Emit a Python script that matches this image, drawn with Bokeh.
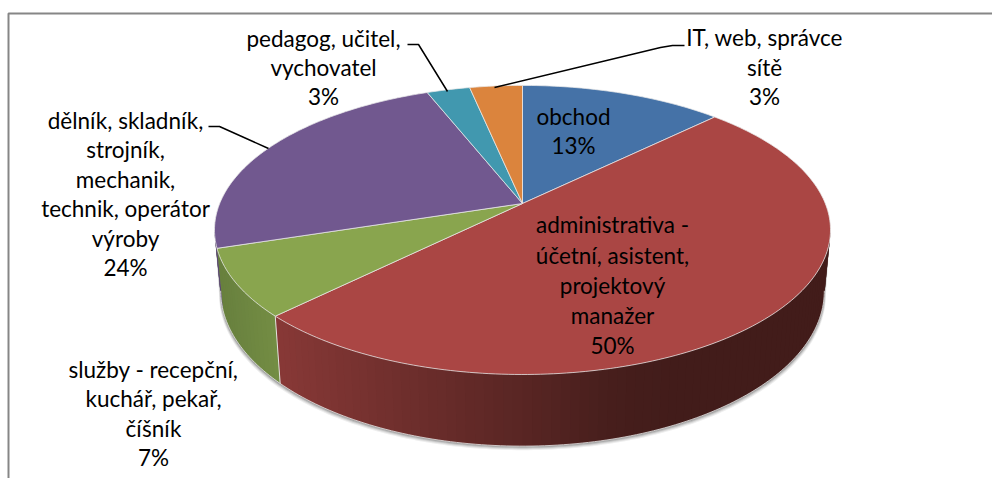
import numpy as np
from bokeh.plotting import figure
from bokeh.core.properties import value
from bokeh.embed import file_html
from bokeh.resources import INLINE

categories = ["obchod", "administrativa - účetní, asistent, projektový manažer",
              "služby - recepční, kuchář, pekař, číšník",
              "dělník, skladník, strojník, mechanik, technik, operátor výroby",
              "pedagog, učitel, vychovatel", "IT, web, správce sítě"]
drawn_share = [12.7, 49.9, 7.5, 23.9, 2.7, 3.3]
percent_labels = ["13%", "50%", "7%", "24%", "3%", "3%"]
label_lines = [["obchod"],
               ["administrativa -", "účetní, asistent,", "projektový", "manažer"],
               ["služby - recepční,", "kuchář, pekař,", "číšník"],
               ["dělník, skladník,", "strojník,", "mechanik,", "technik, operátor", "výroby"],
               ["pedagog, učitel,", "vychovatel"],
               ["IT, web, správce", "sítě"]]
top_colors = ["#4572A7", "#AA4644", "#89A54E", "#71588F", "#4198AF", "#DB843D"]

W, H = 992, 478
p = figure(width=W, height=H, x_range=(0, W), y_range=(H, 0),
           output_backend="svg", toolbar_location=None, min_border=0,
           x_axis_type="linear", y_axis_type="linear")
p.axis.visible = False
p.grid.visible = False
p.outline_line_color = None
p.background_fill_color = "white"

# chart frame
p.line([8, 8, W], [H, 13, 13], line_color="#868686", line_width=2)

# perspective disc
CX, CY, RX, RY, K = 522.0, 203.0, 302.8, 139.7, 0.183

def top_xy(deg):
    t = np.radians(deg)
    u, v = np.sin(t), np.cos(t)
    d = 1 + K * v
    return CX + RX * u / d, CY - RY * v / d

def bottom_xy(deg):
    x, y = top_xy(deg)
    return CX + 0.98 * (x - CX), 262 + 1.074 * (y - CY)

A0, A1 = 100.5, 259.5
edges = np.concatenate([[0], np.cumsum(drawn_share)]) * 3.6
edges[-1] = 360.0

# soft shadow under the near rim
arc = np.arange(A0, A1 + 0.5, 1.0)
bx, by = bottom_xy(arc)
tx, ty = top_xy(arc)
for off, alpha in [(4, 0.10), (3, 0.14), (2, 0.22), (1, 0.30)]:
    p.patch(np.concatenate([bx + off * np.sign(bx - CX) * 0.4, tx[::-1]]),
            np.concatenate([by + off, ty[::-1]]),
            fill_color="#555555", fill_alpha=alpha, line_color=None)

def lerp_stops(x, stops):
    xs = [s[0] for s in stops]
    return tuple(int(round(np.interp(x, xs, [s[1][i] for s in stops]))) for i in range(3))

wall_stops = {
    1: [(281, (135, 56, 54)), (400, (112, 47, 45)), (520, (90, 38, 36)),
        (620, (70, 30, 28)), (680, (66, 28, 26)), (830, (66, 28, 26))],
    2: [(220, (104, 128, 62)), (281, (116, 142, 68))],
    3: [(214, (90, 72, 110)), (222, (90, 72, 110))],
}

# each strip overlaps the next one, painted in order, so no seams show
wall_xs, wall_ys, wall_cs = [], [], []
for i in (1, 2, 3):
    lo, hi = max(edges[i], A0), min(edges[i + 1], A1)
    for a in np.arange(lo, hi, 1.5):
        b = min(a + 3.0, hi)
        x1, y1 = top_xy(a); x2, y2 = top_xy(b)
        x3, y3 = bottom_xy(b); x4, y4 = bottom_xy(a)
        c = lerp_stops(x1, wall_stops[i])
        wall_xs.append([x1, x2, x3, x4]); wall_ys.append([y1, y2, y3, y4])
        wall_cs.append("#%02x%02x%02x" % c)
p.patches(wall_xs, wall_ys, fill_color=wall_cs, line_color=None)

# light rims on the wall
p.line(bx, by, line_color="#e8e8e8", line_width=1, line_alpha=0.8)
sx, sy = bottom_xy(edges[2]), top_xy(edges[2])
p.line([sx[0], sy[0]], [sx[1], sy[1]], line_color="#f0f0f0", line_width=1, line_alpha=0.9)

# top face
for i, col in enumerate(top_colors):
    a = np.linspace(edges[i], edges[i + 1], max(3, int(edges[i + 1] - edges[i]) + 1))
    x, y = top_xy(a)
    p.patch(np.concatenate([[CX], x]), np.concatenate([[CY], y]),
            fill_color=col, line_color="#e9e9e9", line_width=1, line_alpha=0.75)

# leader lines
for lx, ly in [([208, 219, 268], [126, 126, 148]),
               ([407, 418, 447], [44, 44, 91]),
               ([494, 660, 672, 684], [87, 47, 45, 45])]:
    p.line(lx, ly, line_color="black", line_width=1.5)

# labels
anchors = [(573, [116, 145]),
           (612, [224, 255, 285, 315, 345]),
           (153, [369, 398, 428, 457]),
           (125, [120, 149, 179, 208, 238, 267]),
           (323, [38, 67, 96]),
           (764, [37, 67, 96])]
for (cx, ys), lines, pct in zip(anchors, label_lines, percent_labels):
    all_lines = lines + [pct]
    p.text([cx] * len(all_lines), ys, text=all_lines, text_font=value("Lato"),
           text_font_size="22.5px", text_color="black",
           text_align="center", text_baseline="middle")

open("out.html", "w").write(file_html(p, INLINE))
